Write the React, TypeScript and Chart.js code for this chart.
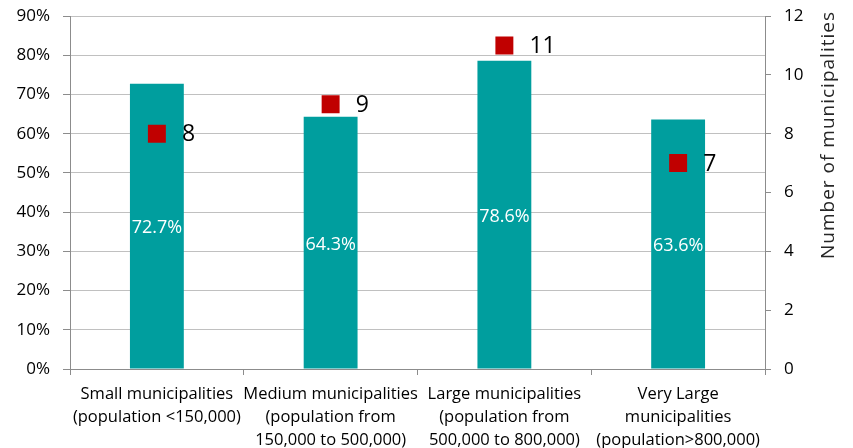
import React, { useEffect, useRef } from "react";
import { Chart, registerables } from "chart.js";

Chart.register(...registerables);

const categories: string[][] = [
  ["Small municipalities", "(population <150,000)"],
  ["Medium municipalities", "(population from", "150,000 to 500,000)"],
  ["Large municipalities", "(population from", "500,000 to 800,000)"],
  ["Very Large", "municipalities", "(population>800,000)"],
];
const sharePercent: number[] = [72.7, 64.3, 78.6, 63.6];
const municipalityCount: number[] = [8, 9, 11, 7];
const rightAxisTitle = "Number of municipalities";

const FONT = "'Open Sans'";

const labelsPlugin = {
  id: "customLabels",
  afterDatasetsDraw(chart: any) {
    const ctx = chart.ctx;
    ctx.save();
    const barMeta = chart.getDatasetMeta(0);
    ctx.font = `18px ${FONT}`;
    ctx.fillStyle = "#ffffff";
    ctx.textAlign = "center";
    ctx.textBaseline = "middle";
    barMeta.data.forEach((el: any, i: number) => {
      const y = (el.y + el.base) / 2 + 2;
      ctx.fillText(sharePercent[i].toFixed(1) + "%", el.x, y);
    });
    const ptMeta = chart.getDatasetMeta(1);
    ctx.font = `23px ${FONT}`;
    ctx.fillStyle = "#000000";
    ctx.textAlign = "left";
    ptMeta.data.forEach((el: any, i: number) => {
      ctx.fillText(String(municipalityCount[i]), el.x + 25, el.y + 1);
    });
    ctx.restore();
  },
  afterDraw(chart: any) {
    const ctx = chart.ctx;
    ctx.save();
    ctx.font = `19px ${FONT}`;
    (ctx as any).letterSpacing = "1px";
    ctx.fillStyle = "#262626";
    ctx.textAlign = "center";
    ctx.textBaseline = "middle";
    ctx.translate(829, 135);
    ctx.rotate(-Math.PI / 2);
    ctx.fillText(rightAxisTitle, 0, 0);
    ctx.restore();
  },
};

export default function App() {
  const ref = useRef<HTMLCanvasElement>(null);
  useEffect(() => {
    document.body.style.margin = "0";
    const chart = new Chart(ref.current!, {
      type: "bar",
      data: {
        labels: categories,
        datasets: [
          {
            type: "bar",
            data: sharePercent,
            backgroundColor: "#009E9E",
            yAxisID: "y",
            categoryPercentage: 1,
            barPercentage: 0.31,
            order: 2,
          },
          {
            type: "line",
            data: municipalityCount,
            yAxisID: "y1",
            showLine: false,
            pointStyle: "rect",
            pointRadius: 12.7,
            pointBorderWidth: 0,
            pointBackgroundColor: "#C00000",
            pointBorderColor: "#C00000",
            order: 1,
          } as any,
        ],
      },
      options: {
        animation: false,
        responsive: false,
        layout: { padding: { top: 16, left: 0, right: 0, bottom: 0 } },
        plugins: { legend: { display: false }, tooltip: { enabled: false } },
        scales: {
          x: {
            offset: true,
            grid: {
              offset: true,
              drawOnChartArea: false,
              drawTicks: true,
              tickLength: 6,
              tickColor: "#8c8c8c",
            },
            border: { color: "#8c8c8c", width: 1 },
            ticks: {
              padding: 7.5,
              color: "#000000",
              maxRotation: 0,
              autoSkip: false,
              font: { family: FONT, size: 16.5, lineHeight: "23px" } as any,
            },
            afterFit(scale: any) {
              scale.height = 79;
              scale.paddingLeft = 0;
              scale.paddingRight = 0;
            },
          },
          y: {
            position: "left",
            min: 0,
            max: 90,
            ticks: {
              stepSize: 10,
              padding: 13,
              color: "#000000",
              font: { family: FONT, size: 17 },
              callback: (v: any) => v + "%",
            },
            grid: {
              color: "#c0c0c0",
              tickColor: "#8c8c8c",
              tickLength: 7,
              lineWidth: 1,
            },
            border: { color: "#8c8c8c", width: 1 },
            afterFit(scale: any) {
              scale.width = 70;
              scale.paddingTop = 0;
              scale.paddingBottom = 0;
            },
          },
          y1: {
            position: "right",
            min: 0,
            max: 12,
            ticks: {
              stepSize: 2,
              padding: 13,
              color: "#000000",
              font: { family: FONT, size: 17 },
            },
            grid: {
              drawOnChartArea: false,
              tickColor: "#8c8c8c",
              tickLength: 6,
            },
            border: { color: "#8c8c8c", width: 1 },
            afterFit(scale: any) {
              scale.width = 88;
              scale.paddingTop = 0;
              scale.paddingBottom = 0;
            },
          },
        },
      },
      plugins: [labelsPlugin],
    });
    return () => chart.destroy();
  }, []);
  return (
    <div style={{ position: "absolute", left: 0, top: 0, width: 853, height: 448 }}>
      <canvas ref={ref} width={853} height={448} style={{ display: "block" }} />
    </div>
  );
}
